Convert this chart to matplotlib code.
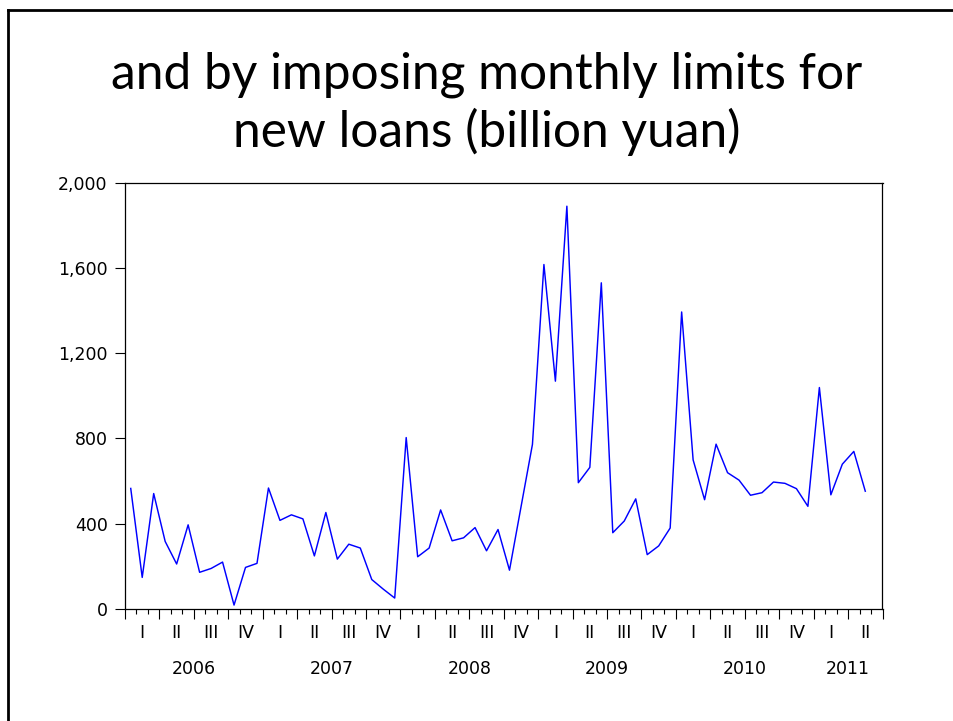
import matplotlib
matplotlib.use("Agg")
import matplotlib.pyplot as plt
from matplotlib.ticker import FixedLocator, FuncFormatter
from matplotlib.lines import Line2D
import matplotlib.transforms as mtransforms

# Monthly new loans, billion yuan, Jan 2006 - May 2011
loans_2006 = [565, 147, 541, 316, 210, 394, 171, 189, 219, 17, 194, 213]
loans_2007 = [567, 415, 441, 422, 248, 452, 233, 303, 285, 137, 92, 50]
loans_2008 = [804, 244, 285, 464, 319, 333, 381, 272, 372, 181, 477, 772]
loans_2009 = [1617, 1069, 1891, 592, 664, 1531, 357, 412, 516, 254, 295, 379]
loans_2010 = [1394, 699, 512, 773, 639, 604, 533, 545, 595, 589, 564, 481]
loans_2011 = [1039, 535, 679, 739, 552]

years = ["2006", "2007", "2008", "2009", "2010", "2011"]
quarters = ["I", "II", "III", "IV"]
y_ticks = [0, 400, 800, 1200, 1600, 2000]
title_lines = ["and by imposing monthly limits for", "new loans (billion yuan)"]

series = loans_2006 + loans_2007 + loans_2008 + loans_2009 + loans_2010 + loans_2011
n_months_axis = 66  # axis runs through end of June 2011

W, H = 954, 721
fig = plt.figure(figsize=(W / 100, H / 100), dpi=100)
fig.patch.set_facecolor("white")

# slide frame (top and left edges)
fig.add_artist(Line2D([8 / W, 8 / W], [0, 1 - 10 / H], transform=fig.transFigure,
                      color="black", lw=2.0, solid_capstyle="projecting"))
fig.add_artist(Line2D([8 / W, 1], [1 - 10 / H, 1 - 10 / H], transform=fig.transFigure,
                      color="black", lw=2.0, solid_capstyle="projecting"))

# title
title_font = dict(family=["Lato", "DejaVu Sans"], fontsize=35.7, color="black",
                  ha="center", va="baseline")
fig.text(487 / W, 1 - 88 / H, title_lines[0], **title_font)
fig.text(487 / W, 1 - 147 / H, title_lines[1], **title_font)

# plot area
left, right, top, bottom = 125, 882.5, 183, 608.7
ax = fig.add_axes([left / W, 1 - bottom / H, (right - left) / W, (bottom - top) / H])

x = [i + 0.5 for i in range(len(series))]
ax.plot(x, series, color="#0000ff", lw=1.05)

ax.set_xlim(0, n_months_axis)
ax.set_ylim(0, 2000)

label_font = ["DejaVu Sans"]
label_size = 12.5

# y axis
ax.yaxis.set_major_locator(FixedLocator(y_ticks))
ax.yaxis.set_major_formatter(FuncFormatter(lambda v, p: f"{int(v):,}"))
ax.tick_params(axis="y", direction="out", length=7, width=0.8, pad=5.5,
               labelsize=label_size, right=False)
for lab in ax.get_yticklabels():
    lab.set_family(label_font)

# x axis: quarter boundaries long, month boundaries short
ax.xaxis.set_major_locator(FixedLocator(list(range(0, n_months_axis + 1, 3))))
ax.xaxis.set_minor_locator(FixedLocator(list(range(0, n_months_axis + 1))))
ax.xaxis.set_major_formatter(FuncFormatter(lambda v, p: ""))
ax.tick_params(axis="x", which="major", direction="out", length=7, width=0.8, top=False)
ax.tick_params(axis="x", which="minor", direction="out", length=3.6, width=0.8, top=False)

for s in ax.spines.values():
    s.set_linewidth(0.9)

# quarter and year labels under the axis
blend = mtransforms.blended_transform_factory(ax.transData, fig.transFigure)
for q in range(n_months_axis // 3):
    ax.text(q * 3 + 1.5, 1 - 633 / H, quarters[q % 4], transform=blend, ha="center",
            va="center", fontsize=label_size, family=label_font, clip_on=False)
for k, yr in enumerate(years):
    start = k * 12
    end = min(start + 12, n_months_axis)
    ax.text((start + end) / 2, 1 - 669 / H, yr, transform=blend, ha="center",
            va="center", fontsize=label_size, family=label_font, clip_on=False)

fig.savefig("out.png", dpi=100, facecolor="white")
